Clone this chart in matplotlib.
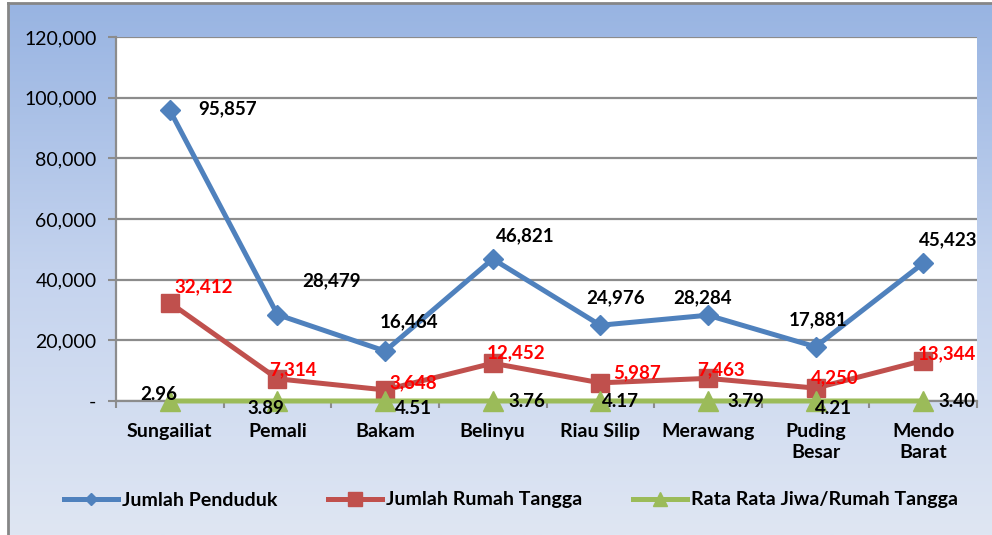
import numpy as np
import matplotlib
matplotlib.use("Agg")
import matplotlib.pyplot as plt
from matplotlib.colors import LinearSegmentedColormap

plt.rcParams['font.family'] = ['Lato', 'DejaVu Sans']

categories = ["Sungailiat", "Pemali", "Bakam", "Belinyu", "Riau Silip",
              "Merawang", "Puding\nBesar", "Mendo\nBarat"]
penduduk = [95857, 28479, 16464, 46821, 24976, 28284, 17881, 45423]
rumah_tangga = [32412, 7314, 3648, 12452, 5987, 7463, 4250, 13344]
rata_rata = [2.96, 3.89, 4.51, 3.76, 4.17, 3.79, 4.21, 3.40]
y_ticks = [0, 20000, 40000, 60000, 80000, 100000, 120000]
y_tick_labels = ["-", "20,000", "40,000", "60,000", "80,000", "100,000", "120,000"]

# label offsets (pixels)
off_blue = [(58, 1), (54, 34), (24, 29), (33, 23), (15, 27), (-5, 17), (2, 27), (25, 23)]
off_red = [(34, 16), (16, 9), (28, 7), (23, 10), (37, 10), (13, 9), (19, 10), (24, 7)]
off_green = [(-11, 6), (-12, -8), (28, -8), (34, -1), (20, -1), (38, -1), (18, -8), (34, -1)]

W, H = 992, 535
fig = plt.figure(figsize=(W / 100, H / 100), dpi=100)
fig.patch.set_facecolor("white")

# gradient background
bg = fig.add_axes([8 / W, 0, 1 - 8 / W, 532 / H])
cmap = LinearSegmentedColormap.from_list("bg", ["#98B4E2", "#C4D3EE", "#DFE6F3"])
grad = np.linspace(0, 1, 256).reshape(-1, 1)
bg.imshow(grad, aspect="auto", cmap=cmap, extent=[0, 1, 0, 1], origin="upper")
bg.set_xlim(0, 1)
bg.set_ylim(0, 1)
bg.set_xticks([])
bg.set_yticks([])
for s in ["right", "bottom"]:
    bg.spines[s].set_visible(False)
for s in ["left", "top"]:
    bg.spines[s].set_color("#868686")
    bg.spines[s].set_linewidth(2)
bg.set_zorder(0)

ax = fig.add_axes([116 / W, 1 - 401 / H, (977 - 116) / W, (401 - 37) / H])
ax.set_facecolor("white")
ax.set_zorder(1)
x = np.arange(len(categories))

blue = "#4F81BD"
red = "#C0504D"
green = "#9BBB59"

ax.plot(x, penduduk, color=blue, lw=3.6, marker="D", ms=10, label="Jumlah Penduduk", zorder=4, clip_on=False)
ax.plot(x, rumah_tangga, color=red, lw=3.6, marker="s", ms=13, label="Jumlah Rumah Tangga", zorder=4, clip_on=False)
ax.plot(x, rata_rata, color=green, lw=3.6, marker="^", ms=14, label="Rata Rata Jiwa/Rumah Tangga", zorder=4, clip_on=False)

lab_fs = 13.5
for i in range(len(x)):
    ax.annotate(f"{penduduk[i]:,}", (x[i], penduduk[i]), xytext=off_blue[i], textcoords="offset pixels",
                ha="center", va="center", fontsize=lab_fs, fontweight="bold", color="black", zorder=6)
    ax.annotate(f"{rumah_tangga[i]:,}", (x[i], rumah_tangga[i]), xytext=off_red[i], textcoords="offset pixels",
                ha="center", va="center", fontsize=lab_fs, fontweight="bold", color="#FF0000", zorder=6)
    ax.annotate(f"{rata_rata[i]:.2f}", (x[i], rata_rata[i]), xytext=off_green[i], textcoords="offset pixels",
                ha="center", va="center", fontsize=lab_fs, fontweight="bold", color="black", zorder=6,
                annotation_clip=False)

ax.set_xlim(-0.5, len(categories) - 0.5)
ax.set_ylim(0, 120000)
ax.set_yticks(y_ticks)
ax.set_yticklabels(y_tick_labels, fontsize=14)
ax.yaxis.grid(True, color="#8C8C8C", lw=1.6)
ax.set_axisbelow(True)

ax.set_xticks(np.arange(-0.5, len(categories), 1.0))
ax.set_xticklabels([])
ax.set_xticks(x, minor=True)
ax.set_xticklabels(categories, minor=True, fontsize=14, fontweight="bold", linespacing=1.25)
ax.tick_params(axis="x", which="major", length=5, color="#8C8C8C", width=1.5)
ax.tick_params(axis="x", which="minor", length=0, pad=16)
ax.tick_params(axis="y", length=6, color="#8C8C8C", width=1.5, pad=8)

for s in ["top", "right"]:
    ax.spines[s].set_visible(False)
for s in ["left", "bottom"]:
    ax.spines[s].set_color("#8C8C8C")
    ax.spines[s].set_linewidth(1.6)

leg = fig.legend(loc="center", bbox_to_anchor=(0.515, 1 - 500 / H), ncol=3, frameon=False,
                 fontsize=14, handlelength=2.8, columnspacing=2.6, handletextpad=0.2)
for t in leg.get_texts():
    t.set_fontweight("bold")
for h, ms in zip(leg.legend_handles, [6, 10, 10]):
    h.set_markersize(ms)

fig.savefig("out.png", dpi=100, facecolor=fig.get_facecolor())
